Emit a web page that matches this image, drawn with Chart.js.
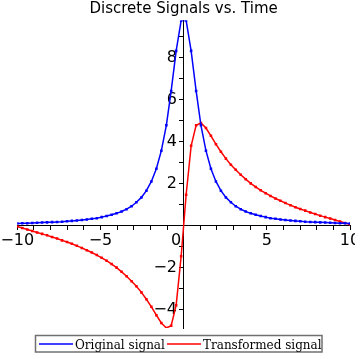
<!DOCTYPE html>
<html><head><meta charset="utf-8">
<script src="https://cdn.jsdelivr.net/npm/chart.js@4"></script>
<style>html,body{margin:0;padding:0;background:#fff;overflow:hidden;}canvas{display:block;}</style>
</head><body>
<canvas id="c" width="355" height="355"></canvas>
<script>
const timeValues = [
  -10.00, -9.70, -9.40, -9.10, -8.81, -8.51, -8.21, -7.91, -7.61, -7.31,
  -7.01, -6.72, -6.42, -6.12, -5.82, -5.52, -5.22, -4.93, -4.63, -4.33,
  -4.03, -3.73, -3.43, -3.13, -2.84, -2.54, -2.24, -1.94, -1.64, -1.34,
  -1.04, -0.75, -0.45, -0.15,
  0.15, 0.45, 0.75, 1.04, 1.34, 1.64, 1.94, 2.24, 2.54, 2.84,
  3.13, 3.43, 3.73, 4.03, 4.33, 4.63, 4.93, 5.22, 5.52, 5.82,
  6.12, 6.42, 6.72, 7.01, 7.31, 7.61, 7.91, 8.21, 8.51, 8.81,
  9.10, 9.40, 9.70, 10.00
];
const originalSignal = [
  0.10, 0.11, 0.11, 0.12, 0.13, 0.14, 0.15, 0.16, 0.17, 0.18,
  0.20, 0.22, 0.24, 0.26, 0.29, 0.32, 0.35, 0.40, 0.45, 0.51,
  0.58, 0.67, 0.78, 0.92, 1.11, 1.34, 1.66, 2.10, 2.71, 3.57,
  4.78, 6.42, 8.33, 9.78,
  9.78, 8.33, 6.42, 4.78, 3.57, 2.71, 2.10, 1.66, 1.34, 1.11,
  0.92, 0.78, 0.67, 0.58, 0.51, 0.45, 0.40, 0.35, 0.32, 0.29,
  0.26, 0.24, 0.22, 0.20, 0.18, 0.17, 0.16, 0.15, 0.14, 0.13,
  0.12, 0.11, 0.11, 0.10
];
const transformedSignal = [
  -0.05, -0.12, -0.19, -0.26, -0.33, -0.40, -0.47, -0.55, -0.62, -0.71,
  -0.79, -0.87, -0.97, -1.07, -1.18, -1.29, -1.41, -1.54, -1.68, -1.84,
  -2.01, -2.21, -2.42, -2.66, -2.90, -3.19, -3.52, -3.88, -4.28, -4.65,
  -4.89, -4.78, -3.80, -1.47,
  1.47, 3.80, 4.78, 4.89, 4.65, 4.28, 3.88, 3.52, 3.19, 2.90,
  2.66, 2.42, 2.21, 2.01, 1.84, 1.68, 1.54, 1.41, 1.29, 1.18,
  1.07, 0.97, 0.87, 0.79, 0.71, 0.62, 0.55, 0.47, 0.40, 0.33,
  0.26, 0.19, 0.12, 0.05
];
const seriesNames = ['Original signal', 'Transformed signal'];
const seriesColors = ['#0000ff', '#ff0000'];
const xTickValues = [-10,-9,-8,-7,-6,-5,-4,-3,-2,-1,0,1,2,3,4,5,6,7,8,9,10];
const xTickLabels = {'-10':'\u221210', '-5':'\u22125', '0':'0\u00a0\u00a0\u00a0', '5':'5', '10':'10'};
const yTickValues = [-4,-3,-2,-1,0,1,2,3,4,5,6,7,8,9];
const yTickLabels = {'-4':'\u22124', '-2':'\u22122', '2':'2', '4':'4', '6':'6', '8':'8'};
const chartTitle = 'Discrete Signals vs. Time';

function toPoints(xs, ys){ return xs.map((x,i)=>({x:x, y:ys[i]})); }

const legendBox = {
  id: 'legendBox',
  afterDraw(chart){
    const ctx = chart.ctx;
    ctx.save();
    ctx.strokeStyle = '#707070';
    ctx.lineWidth = 1.5;
    ctx.strokeRect(35.5, 335.5, 286.5, 16.5);
    ctx.font = '12px "DejaVu Serif"';
    ctx.textBaseline = 'alphabetic';
    ctx.fillStyle = '#000';
    const items = [
      {x0: 39, x1: 73, tx: 75},
      {x0: 167, x1: 201, tx: 203}
    ];
    chart.data.datasets.forEach((ds, i) => {
      const it = items[i];
      ctx.strokeStyle = ds.borderColor;
      ctx.lineWidth = 1.5;
      ctx.beginPath();
      ctx.moveTo(it.x0, 344);
      ctx.lineTo(it.x1, 344);
      ctx.stroke();
      ctx.fillText(ds.label, it.tx, 348.5);
    });
    ctx.restore();
  }
};

new Chart(document.getElementById('c'), {
  type: 'line',
  data: {
    datasets: [
      {label: seriesNames[0], data: toPoints(timeValues, originalSignal), borderColor: seriesColors[0], backgroundColor: seriesColors[0], borderWidth: 1.5, pointStyle: 'rect', pointRadius: 1.8, pointBorderWidth: 0, tension: 0, fill: false},
      {label: seriesNames[1], data: toPoints(timeValues, transformedSignal), borderColor: seriesColors[1], backgroundColor: seriesColors[1], borderWidth: 1.5, pointStyle: 'rect', pointRadius: 1.8, pointBorderWidth: 0, tension: 0, fill: false}
    ]
  },
  options: {
    responsive: false,
    animation: false,
    devicePixelRatio: 1,
    layout: {padding: {left: 17.3, right: 5, top: 0, bottom: 27}},
    plugins: {
      legend: {display: false},
      tooltip: {enabled: false},
      title: {display: true, text: chartTitle, color: '#000', font: {family: 'DejaVu Sans', size: 15, weight: 'normal'}, padding: {top: 0, bottom: 2.5}}
    },
    scales: {
      x: {
        type: 'linear', min: -10, max: 10,
        position: {y: 0},
        afterBuildTicks: s => { s.ticks = xTickValues.map(v => ({value: v})); },
        afterFit: s => { s.paddingLeft = 0; s.paddingRight = 0; },
        grid: {drawOnChartArea: false, drawTicks: true, tickLength: 4, color: '#000', tickColor: '#000'},
        border: {display: true, color: '#000', width: 1},
        ticks: {autoSkip: false, maxRotation: 0, padding: 2, color: '#000', font: {family: 'DejaVu Sans', size: 16},
          callback: v => (xTickLabels[String(v)] !== undefined ? xTickLabels[String(v)] : '')}
      },
      y: {
        type: 'linear', min: -4.89, max: 9.78,
        position: {x: 0},
        afterBuildTicks: s => { s.ticks = yTickValues.map(v => ({value: v})); },
        afterFit: s => { s.paddingTop = 0; s.paddingBottom = 0; },
        grid: {drawOnChartArea: false, drawTicks: true, tickLength: 4, color: '#000', tickColor: '#000'},
        border: {display: true, color: '#000', width: 1},
        ticks: {autoSkip: false, padding: 2, color: '#000', font: {family: 'DejaVu Sans', size: 16},
          callback: v => (yTickLabels[String(v)] !== undefined ? yTickLabels[String(v)] + '\u2005\u2006' : '')}
      }
    }
  },
  plugins: [legendBox]
});
</script>
</body></html>
